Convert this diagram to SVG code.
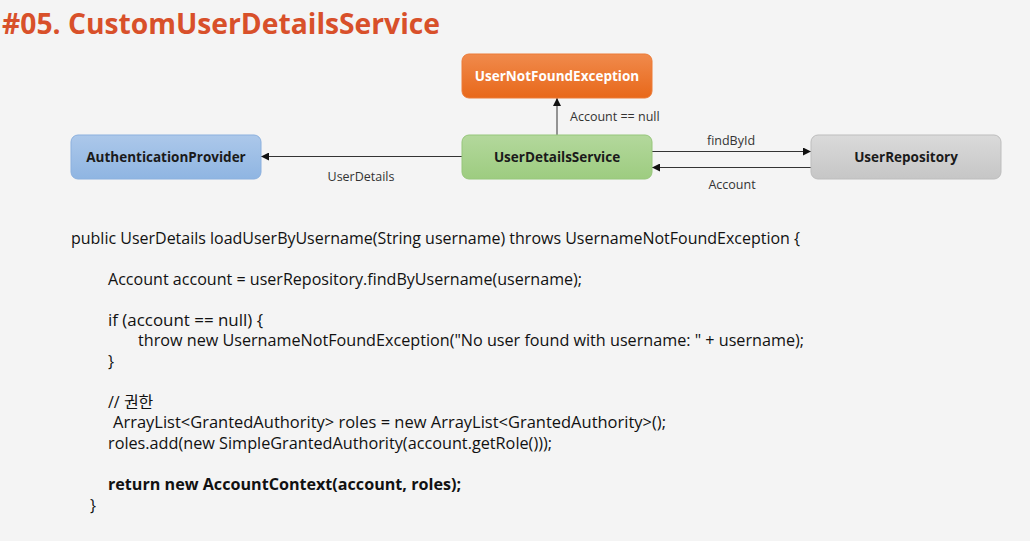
<svg xmlns="http://www.w3.org/2000/svg" width="1030" height="541" viewBox="0 0 1030 541">
  <style>
    .title { font-family: "Open Sans", "Noto Sans", sans-serif; font-weight: bold; font-size: 28px; fill: #d8502a; }
    .box { stroke-width: 1; }
    .lbl { font-family: "Open Sans", "Noto Sans", sans-serif; font-weight: bold; font-size: 13.5px; text-anchor: middle; fill: #1a1a1a; }
    .lbl-w { fill: #ffffff; }
    .edge { stroke: #333333; stroke-width: 1; fill: none; }
    .elbl { font-family: "Open Sans", "Noto Sans", sans-serif; font-size: 12.5px; fill: #333333; }
    .code { font-family: "Open Sans", "Noto Sans", "Noto Sans CJK KR", sans-serif; font-size: 16px; fill: #111111; }
    .bold { font-weight: bold; }
  </style>
  <defs>
    <linearGradient id="gOrange" x1="0" y1="0" x2="0" y2="1">
      <stop offset="0" stop-color="#f08a4c"/>
      <stop offset="1" stop-color="#e8681a"/>
    </linearGradient>
    <linearGradient id="gBlue" x1="0" y1="0" x2="0" y2="1">
      <stop offset="0" stop-color="#acc8ea"/>
      <stop offset="1" stop-color="#8fb5e2"/>
    </linearGradient>
    <linearGradient id="gGreen" x1="0" y1="0" x2="0" y2="1">
      <stop offset="0" stop-color="#b3d89c"/>
      <stop offset="1" stop-color="#9dcc80"/>
    </linearGradient>
    <linearGradient id="gGray" x1="0" y1="0" x2="0" y2="1">
      <stop offset="0" stop-color="#dadada"/>
      <stop offset="1" stop-color="#c6c6c6"/>
    </linearGradient>
    <marker id="arr" viewBox="0 0 10 10" refX="10" refY="5" markerWidth="8" markerHeight="8" markerUnits="userSpaceOnUse" orient="auto">
      <path d="M0,0 L10,5 L0,10 z" fill="#111111"/>
    </marker>
  </defs>

  <rect width="1030" height="541" fill="#f4f4f4"/>

  <text class="title" x="2" y="34" textLength="438" lengthAdjust="spacingAndGlyphs">#05. CustomUserDetailsService</text>

  <!-- connectors -->
  <g id="connectors">
    <line class="edge" x1="557" y1="135" x2="557" y2="98" marker-end="url(#arr)"/>
    <text class="elbl" x="570" y="121">Account == null</text>
    <line class="edge" x1="462" y1="156.5" x2="261" y2="156.5" marker-end="url(#arr)"/>
    <text class="elbl" x="361" y="181" text-anchor="middle">UserDetails</text>
    <line class="edge" x1="652" y1="151.5" x2="811" y2="151.5" marker-end="url(#arr)"/>
    <text class="elbl" x="731" y="145" text-anchor="middle">findById</text>
    <line class="edge" x1="811" y1="167.5" x2="652" y2="167.5" marker-end="url(#arr)"/>
    <text class="elbl" x="732" y="189" text-anchor="middle">Account</text>
  </g>

  <!-- nodes -->
  <g id="node-usernotfound">
    <rect class="box" x="462" y="54" width="190" height="44" rx="7" fill="url(#gOrange)" stroke="#ec7a36"/>
    <text class="lbl lbl-w" x="557" y="80.5">UserNotFoundException</text>
  </g>
  <g id="node-authprovider">
    <rect class="box" x="71" y="135" width="190" height="44" rx="7" fill="url(#gBlue)" stroke="#8bb0de"/>
    <text class="lbl" x="166" y="161.5">AuthenticationProvider</text>
  </g>
  <g id="node-userdetailsservice">
    <rect class="box" x="462" y="135" width="190" height="44" rx="7" fill="url(#gGreen)" stroke="#96c67a"/>
    <text class="lbl" x="557" y="161.5">UserDetailsService</text>
  </g>
  <g id="node-userrepository">
    <rect class="box" x="811" y="135" width="190" height="44" rx="7" fill="url(#gGray)" stroke="#bdbdbd"/>
    <text class="lbl" x="906" y="161.5">UserRepository</text>
  </g>

  <!-- source listing -->
  <g id="code">
    <text class="code" x="71" y="244" textLength="729" lengthAdjust="spacingAndGlyphs">public UserDetails loadUserByUsername(String username) throws UsernameNotFoundException {</text>
    <text class="code" x="108" y="285" textLength="474" lengthAdjust="spacingAndGlyphs">Account account = userRepository.findByUsername(username);</text>
    <text class="code" x="108" y="326" textLength="155" lengthAdjust="spacingAndGlyphs">if (account == null) {</text>
    <text class="code" x="138" y="346" textLength="666" lengthAdjust="spacingAndGlyphs">throw new UsernameNotFoundException("No user found with username: " + username);</text>
    <text class="code" x="108" y="367">}</text>
    <text class="code" x="108" y="408">// 권한</text>
    <text class="code" x="113" y="428" textLength="553" lengthAdjust="spacingAndGlyphs">ArrayList&lt;GrantedAuthority&gt; roles = new ArrayList&lt;GrantedAuthority&gt;();</text>
    <text class="code" x="108" y="449" textLength="444" lengthAdjust="spacingAndGlyphs">roles.add(new SimpleGrantedAuthority(account.getRole()));</text>
    <text class="code bold" x="108" y="490" textLength="353" lengthAdjust="spacingAndGlyphs">return new AccountContext(account, roles);</text>
    <text class="code" x="90" y="511">}</text>
  </g>
</svg>
